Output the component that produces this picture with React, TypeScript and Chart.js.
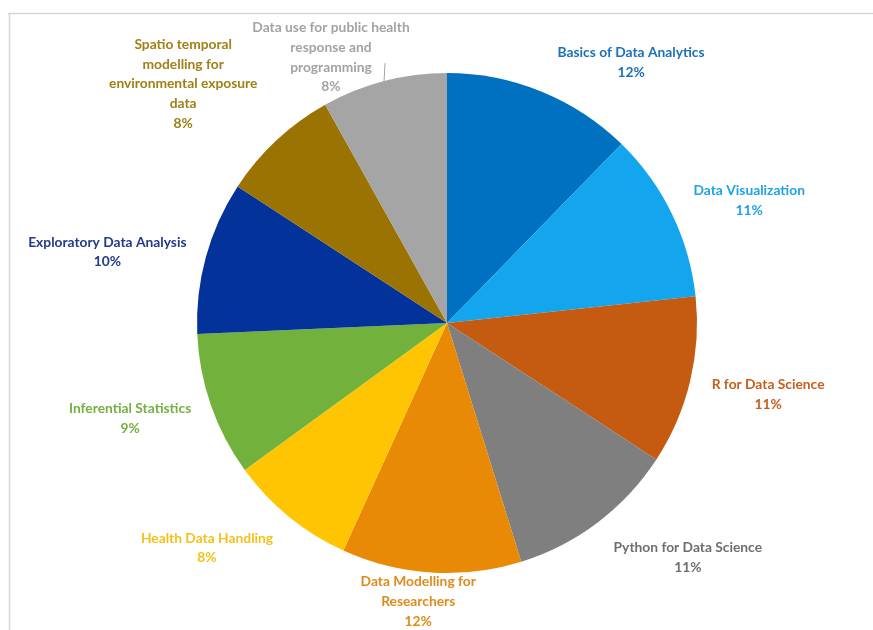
import React, { useEffect, useRef } from "react";
import { Chart, registerables } from "chart.js";

Chart.register(...registerables);

// ---------- data ----------
const categories: string[][] = [
  ["Basics of Data Analytics"],
  ["Data Visualization"],
  ["R for Data Science"],
  ["Python for Data Science"],
  ["Data Modelling for", "Researchers"],
  ["Health Data Handling"],
  ["Inferential Statistics"],
  ["Exploratory Data Analysis"],
  ["Spatio temporal", "modelling for", "environmental exposure", "data"],
  ["Data use for public health", "response and", "programming"],
];
// shares (they round to the printed percentages)
const values: number[] = [12.3, 11.0, 10.9, 11.0, 11.6, 8.2, 9.3, 9.9, 7.7, 8.1];

// ---------- style ----------
const sliceColors = [
  "#0070C0", "#13A6EE", "#C55A11", "#7F7F7F", "#E98A07",
  "#FFC503", "#72B23C", "#03339A", "#9B7303", "#A5A5A5",
];
const labelColors = [
  "#1A70BA", "#1FA2E6", "#C65E1C", "#6E6E6E", "#DE8B1E",
  "#F4C11C", "#74B044", "#22398E", "#A07F16", "#A3A3A3",
];
// label placement relative to each slice (px beyond the rim, degrees of rotation)
const labelExtra = [69, 76, 79, 86, 30, 79, 81, 97, 106, 40];
const labelShiftDeg = [13.1, 3.9, -0.9, -8.7, 2.3, 7.6, 2.5, -3.5, -4.8, -9.0];
const leaderLine = [false, false, false, false, false, false, false, false, false, true];
const FONT = "bold 13.8px Lato, 'Open Sans', sans-serif";
const LINE_H = 19.7;

const labelPlugin = {
  id: "outsideLabels",
  beforeDraw(chart: any) {
    const ctx = chart.ctx;
    ctx.save();
    ctx.strokeStyle = "#d6d6d6";
    ctx.lineWidth = 1.5;
    ctx.beginPath();
    ctx.moveTo(8, 13.5);
    ctx.lineTo(chart.width, 13.5);
    ctx.moveTo(9.5, 13);
    ctx.lineTo(9.5, chart.height);
    ctx.stroke();
    ctx.restore();
  },
  afterDatasetsDraw(chart: any) {
    const ctx = chart.ctx;
    const meta = chart.getDatasetMeta(0);
    const data = chart.data.datasets[0].data as number[];
    const total = data.reduce((a, b) => a + b, 0);
    ctx.save();
    ctx.font = FONT;
    ctx.textAlign = "center";
    ctx.textBaseline = "middle";
    meta.data.forEach((arc: any, i: number) => {
      const p = arc.getProps(["x", "y", "startAngle", "endAngle", "outerRadius"], true);
      const mid = (p.startAngle + p.endAngle) / 2;
      const a = mid + (labelShiftDeg[i] * Math.PI) / 180;
      const r = p.outerRadius + labelExtra[i];
      const cx = p.x + r * Math.cos(a);
      const cy = p.y + r * Math.sin(a);
      const lines = [...categories[i], Math.round((data[i] / total) * 100) + "%"];
      ctx.fillStyle = labelColors[i];
      lines.forEach((ln, k) => {
        ctx.fillText(ln, cx, cy + (k - (lines.length - 1) / 2) * LINE_H);
      });
      if (leaderLine[i]) {
        const ex = p.x + p.outerRadius * Math.cos(mid);
        const ey = p.y + p.outerRadius * Math.sin(mid);
        ctx.strokeStyle = labelColors[i];
        ctx.lineWidth = 1;
        ctx.beginPath();
        ctx.moveTo(ex, ey);
        ctx.lineTo(ex + 1, ey - 18);
        ctx.stroke();
      }
    });
    ctx.restore();
  },
};

export default function App() {
  const ref = useRef<HTMLCanvasElement | null>(null);
  useEffect(() => {
    document.body.style.margin = "0";
    if (!ref.current) return;
    const chart = new Chart(ref.current, {
      type: "pie",
      data: {
        labels: categories,
        datasets: [
          {
            data: values,
            backgroundColor: sliceColors,
            borderWidth: 0,
          },
        ],
      },
      options: {
        animation: false,
        responsive: false,
        maintainAspectRatio: false,
        layout: { padding: { top: 73, bottom: 57, left: 197, right: 176 } },
        plugins: {
          legend: { display: false },
          tooltip: { enabled: false },
        },
      },
      plugins: [labelPlugin],
    });
    return () => chart.destroy();
  }, []);
  return (
    <div style={{ width: 873, height: 630, background: "#fff" }}>
      <canvas ref={ref} width={873} height={630} />
    </div>
  );
}
